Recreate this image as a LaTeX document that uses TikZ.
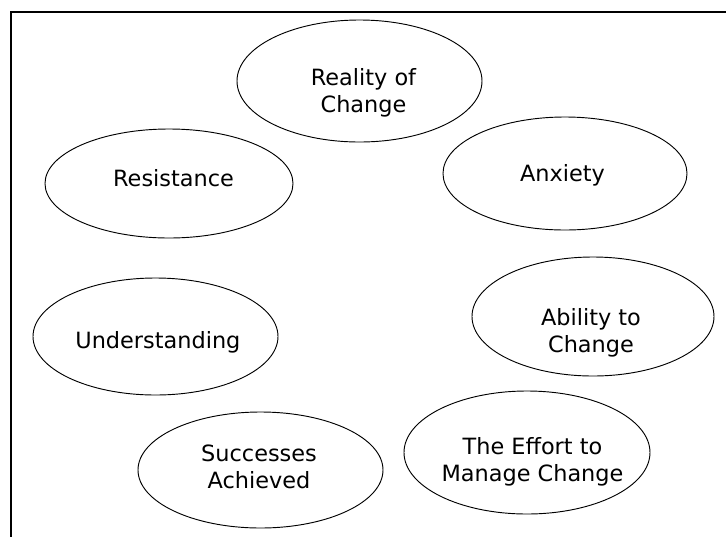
\documentclass[tikz,border=0pt]{standalone}
\usepackage{fontspec}
\setmainfont{DejaVu Sans}
\usetikzlibrary{shapes.geometric}
\tikzstyle{frame} = [line width=1.1pt]
\tikzstyle{bubble} = [ellipse, draw, line width=0.7pt, inner sep=0pt]
\tikzstyle{caption} = [align=center, inner sep=0pt, font=\fontsize{16.8}{20.25}\selectfont]

\begin{document}
\begin{tikzpicture}[x=0.75pt, y=-0.75pt]
            \useasboundingbox (0,0) rectangle (726,537);
            \coordinate (topright) at (726,12);
            \coordinate (corner) at (11,12);
            \coordinate (bottomleft) at (11,537);
            \draw [frame] (topright) -- (corner) -- (bottomleft);
            % the seven ellipses (sizes in pixels, times 0.75pt)
            \node [bubble, minimum width=245*0.75pt, minimum height=122*0.75pt] at (359.5,81) (reality) {};
            \node [bubble, minimum width=248*0.75pt, minimum height=109*0.75pt] at (169,183.5) (resistance) {};
            \node [bubble, minimum width=244*0.75pt, minimum height=113*0.75pt] at (565,173.5) (anxiety) {};
            \node [bubble, minimum width=245*0.75pt, minimum height=117*0.75pt] at (155.5,336.5) (understanding) {};
            \node [bubble, minimum width=242*0.75pt, minimum height=119*0.75pt] at (593,316.5) (ability) {};
            \node [bubble, minimum width=245*0.75pt, minimum height=116*0.75pt] at (260.5,470) (successes) {};
            \node [bubble, minimum width=246*0.75pt, minimum height=123*0.75pt] at (527,452.5) (effort) {};
            % the texts
            \node [caption] at (363.5,92.8) (realitytext) {Reality of\\Change};
            \node [caption, anchor=base] at (173.5,186.7) (resistancetext) {Resistance};
            \node [caption, anchor=base] at (562.5,181.7) (anxietytext) {Anxiety};
            \node [caption, anchor=base] at (157.9,348.3) (understandingtext) {Understanding};
            \node [caption] at (591,332.4) (abilitytext) {Ability to\\Change};
            \node [caption] at (259,467) (successestext) {Successes\\Achieved};
            \node [caption] at (532.5,461.9) (efforttext) {The Effort to\\Manage Change};
\end{tikzpicture}
\end{document}
